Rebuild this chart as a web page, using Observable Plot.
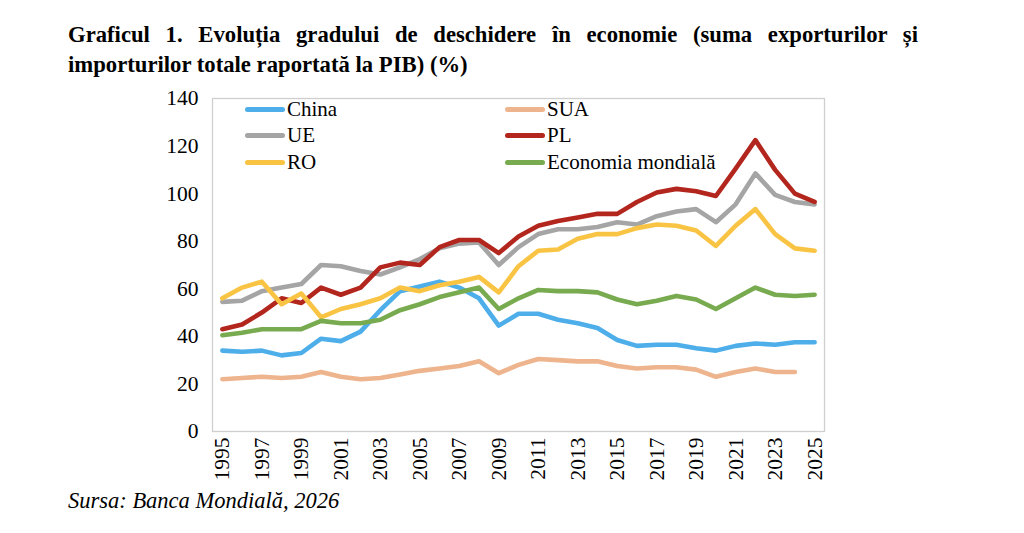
<!DOCTYPE html>
<html><head><meta charset="utf-8">
<script src="https://cdn.jsdelivr.net/npm/d3@7"></script>
<script src="https://cdn.jsdelivr.net/npm/@observablehq/plot@0.6"></script>
<style>
html,body{margin:0;padding:0;background:#fff;}
body{width:1024px;height:533px;position:relative;overflow:hidden;font-family:"Liberation Serif","Times New Roman",serif;color:#000;}
#title{position:absolute;left:68px;top:20px;width:850px;font-weight:bold;font-size:22.7px;line-height:30px;}
#title .l1{text-align:justify;text-align-last:justify;white-space:nowrap;}
#chart{position:absolute;left:0;top:80px;}
#legend{position:absolute;left:245px;top:96px;display:grid;grid-template-columns:260px auto;grid-auto-rows:26.5px;font-size:21px;}
#legend .it{display:flex;align-items:center;}
#legend .sw{display:inline-block;width:40px;height:5px;border-radius:2.5px;margin-right:2px;}
#caption{position:absolute;left:68px;top:488px;font-style:italic;font-size:22.5px;}
</style></head>
<body>
<div id="title"><div class="l1">Graficul 1. Evoluția gradului de deschidere în economie (suma exporturilor și</div><div>importurilor totale raportată la PIB) (%)</div></div>
<div id="chart"></div>
<div id="legend"></div>
<div id="caption">Sursa: Banca Mondială, 2026</div>
<script>
const years = d3.range(1995, 2026);
const tickYears = d3.range(1995, 2026, 2);
const yTicks = [0, 20, 40, 60, 80, 100, 120, 140];
const seriesNames = ["China", "SUA", "UE", "PL", "RO", "Economia mondială"];
const seriesColors = ["#4DAEEA", "#EDB48D", "#A5A5A5", "#B3261E", "#F9C443", "#78AB4F"];

const china = [34,33.5,34,32,33,39,38,42,51,59,61,63,60.5,56,44.5,49.5,49.5,47,45.5,43.5,38.5,36,36.5,36.5,35,34,36,37,36.5,37.5,37.5];
const sua   = [22,22.5,23,22.5,23,25,23,22,22.5,24,25.5,26.5,27.5,29.5,24.5,28,30.5,30,29.5,29.5,27.5,26.5,27,27,26,23,25,26.5,25,25,null];
const ue    = [54.5,55,59,60.5,62,70,69.5,67.5,66,69,72.5,77,79,79.5,70,77.5,83,85,85,86,88,87,90.5,92.5,93.5,88,95.5,108.5,99.5,96.5,95.5];
const pl    = [43,45,50,56,54,60.5,57.5,60.5,69,71,70,77.5,80.5,80.5,75,82,86.5,88.5,90,91.5,91.5,96.5,100.5,102,101,99,110.5,122.5,110,100,96.5];
const ro    = [56,60.5,63,53.5,58,48,51.5,53.5,56,60.5,59,61.5,63,65,58.5,69.5,76,76.5,81,83,83,85.5,87,86.5,84.5,78,86.5,93.5,83,77,76];
const world = [40.5,41.5,43,43,43,46.5,45.5,45.5,47,51,53.5,56.5,58.5,60.5,51.5,56,59.5,59,59,58.5,55.5,53.5,55,57,55.5,51.5,56,60.5,57.5,57,57.5];

const seriesValues = [china, sua, ue, pl, ro, world];
const data = [];
seriesNames.forEach((name, i) => {
  seriesValues[i].forEach((v, j) => {
    if (v != null) data.push({series: name, year: years[j], value: v});
  });
});

const chart = Plot.plot({
  width: 1024,
  height: 420,
  marginLeft: 212,
  marginRight: 200,
  marginTop: 18,
  marginBottom: 69,
  style: {fontFamily: "'Liberation Serif', 'Times New Roman', serif", fontSize: "21.5px", color: "#000", background: "transparent", overflow: "visible"},
  x: {type: "linear", domain: [1994.5, 2025.5], ticks: tickYears, tickFormat: d => String(d), tickRotate: -90, tickSize: 0, tickPadding: 6, label: null},
  y: {domain: [0, 140], ticks: yTicks, tickSize: 0, tickPadding: 14, label: null},
  color: {domain: seriesNames, range: seriesColors},
  marks: [
    Plot.frame({stroke: "#cfcfcf", strokeWidth: 1.3}),
    Plot.line(data, {x: "year", y: "value", z: "series", stroke: "series", strokeWidth: 4.6, strokeLinejoin: "round", strokeLinecap: "round"})
  ]
});
document.getElementById("chart").appendChild(chart);

const legend = document.getElementById("legend");
seriesNames.forEach((name, i) => {
  const it = document.createElement("div");
  it.className = "it";
  const sw = document.createElement("span");
  sw.className = "sw";
  sw.style.background = seriesColors[i];
  const tx = document.createElement("span");
  tx.textContent = name;
  it.appendChild(sw);
  it.appendChild(tx);
  legend.appendChild(it);
});
</script>
</body></html>
